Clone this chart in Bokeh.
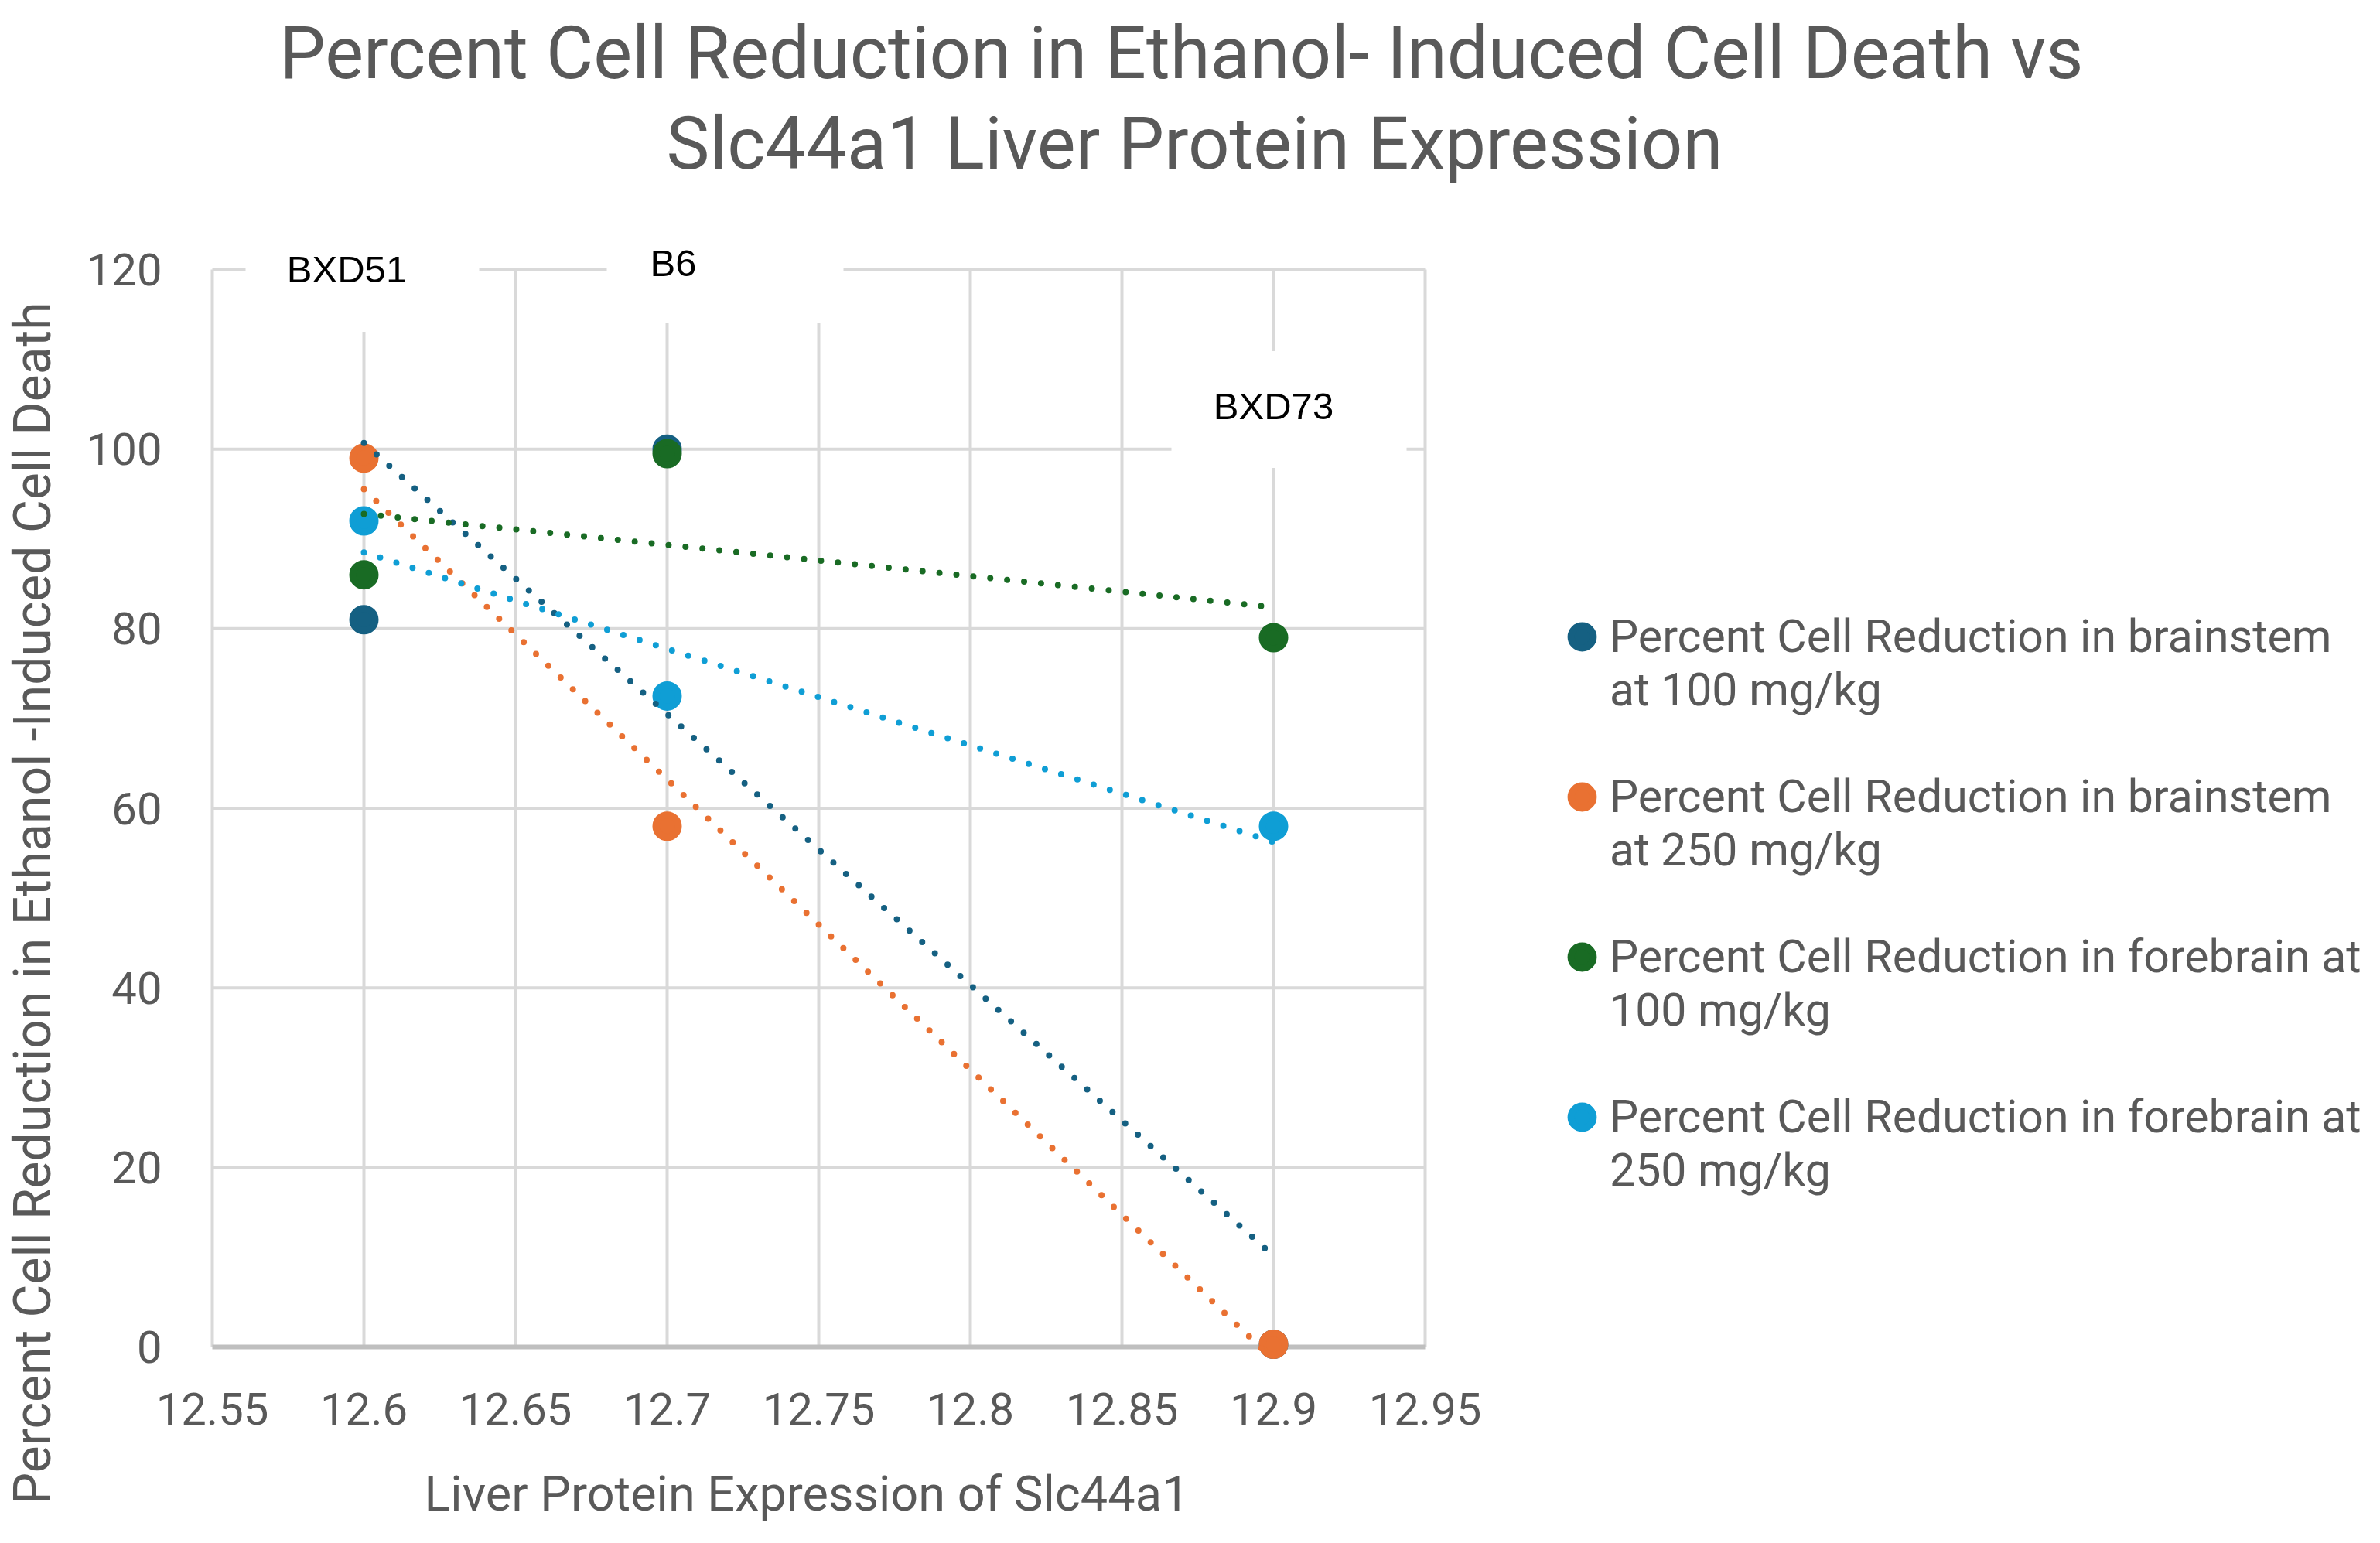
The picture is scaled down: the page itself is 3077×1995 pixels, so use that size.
import numpy as np
from bokeh.plotting import figure
from bokeh.models import Range1d, FixedTicker, Legend, LegendItem, Title
from bokeh.embed import file_html
from bokeh.resources import INLINE
from bokeh.core.properties import value

# ---------------- data ----------------
x_expr = [12.6, 12.7, 12.9]
strain_names = ["BXD51", "B6", "BXD73"]
brainstem_100 = [81, 100, 0.3]
brainstem_250 = [99, 58, 0.3]
forebrain_100 = [86, 99.5, 79]
forebrain_250 = [92, 72.5, 58]
series_values = [brainstem_100, brainstem_250, forebrain_100, forebrain_250]
series_names = [
    "Percent Cell Reduction in brainstem\nat 100 mg/kg",
    "Percent Cell Reduction in brainstem\nat 250 mg/kg",
    "Percent Cell Reduction in forebrain at\n100 mg/kg",
    "Percent Cell Reduction in forebrain at\n250 mg/kg",
]
colors = ["#156082", "#E97132", "#196B24", "#0F9ED5"]
x_ticks = [12.55, 12.6, 12.65, 12.7, 12.75, 12.8, 12.85, 12.9, 12.95]
x_tick_labels = ["12.55", "12.6", "12.65", "12.7", "12.75", "12.8", "12.85", "12.9", "12.95"]
y_ticks = [0, 20, 40, 60, 80, 100, 120]

title_lines = ["Percent Cell Reduction in Ethanol- Induced Cell Death vs",
               "Slc44a1 Liver Protein Expression"]
x_title = "Liver Protein Expression of Slc44a1"
y_title = "Percent Cell Reduction in Ethanol  -Induced Cell Death"

NB = "\u00a0"

# ---------------- geometry (figure pixels) ----------------
X_LO_PX, X_HI_PX = 271, 1839      # x = 12.55 / 12.95
Y_HI_PX, Y_LO_PX = 348, 1741      # y = 120 / 0
FL, FT, FB = 267, 308, 1765       # frame left / top / bottom
W = 3060
FW = 1576
FH = FB - FT
ppx = (X_HI_PX - X_LO_PX) / (x_ticks[-1] - x_ticks[0])
ppy = (Y_LO_PX - Y_HI_PX) / (y_ticks[-1] - y_ticks[0])
x0 = x_ticks[0] - (X_LO_PX - FL) / ppx
x1 = x0 + FW / ppx
y1 = y_ticks[-1] + (Y_HI_PX - FT) / ppy
y0 = y1 - FH / ppy


def dx(px):   # figure pixel -> data x
    return x_ticks[0] + (px - X_LO_PX) / ppx


def dy(py):   # figure pixel -> data y
    return (Y_LO_PX - py) / ppy


GREY = "#595959"
FONT = "Roboto"

p = figure(frame_width=FW, frame_height=FH,
           min_border_left=FL, min_border_top=FT,
           min_border_right=W - FL - FW, min_border_bottom=150,
           x_range=Range1d(x0, x1), y_range=Range1d(y0, y1),
           output_backend="svg", toolbar_location=None,
           background_fill_color="white", border_fill_color="white")
p.outline_line_color = None
p.xgrid.visible = False
p.ygrid.visible = False

# grid (manual so it stops at the data box)
p.segment(x0=x_ticks, x1=x_ticks, y0=[y_ticks[0]] * len(x_ticks), y1=[y_ticks[-1]] * len(x_ticks),
          line_color="#D9D9D9", line_width=4, level="underlay")
p.segment(x0=[x_ticks[0]] * (len(y_ticks) - 1), x1=[x_ticks[-1]] * (len(y_ticks) - 1),
          y0=y_ticks[1:], y1=y_ticks[1:], line_color="#D9D9D9", line_width=4, level="underlay")
p.segment(x0=[x_ticks[0]], x1=[x_ticks[-1]], y0=[0], y1=[0],
          line_color="#BFBFBF", line_width=6, level="underlay")

# axes
p.xaxis.ticker = FixedTicker(ticks=x_ticks)
p.xaxis.major_label_overrides = {t: l for t, l in zip(x_ticks, x_tick_labels)}
p.yaxis.ticker = FixedTicker(ticks=y_ticks)
for ax in (p.xaxis[0], p.yaxis[0]):
    ax.axis_line_color = None
    ax.major_tick_line_color = None
    ax.minor_tick_line_color = None
    ax.major_tick_out = 0
    ax.major_tick_in = 0
    ax.major_label_text_font = FONT
    ax.major_label_text_font_size = "58px"
    ax.major_label_text_color = GREY
    ax.axis_label_text_font = FONT
    ax.axis_label_text_color = GREY
    ax.axis_label_text_font_style = "normal"
p.xaxis.axis_label = x_title + NB * 2
p.yaxis.axis_label = y_title + NB * 15
p.xaxis.axis_label_text_font_size = "63px"
p.yaxis.axis_label_text_font_size = "66px"
p.xaxis.major_label_standoff = 35
p.xaxis.axis_label_standoff = 50
p.yaxis.major_label_standoff = FL - 206
p.yaxis.axis_label_standoff = 28

# data label boxes and texts (pixel positions)
box_cx = [465, 934, 1663]
box_cy = [353, 342, 529]
box_w = [302, 306, 304]
txt_cx = [445, 867, 1643]
txt_cy = [347, 339, 524]
p.rect(x=[dx(v) for v in box_cx], y=[dy(v) for v in box_cy], width=box_w, height=151,
       width_units="screen", height_units="screen", fill_color="white", line_color=None)
p.text(x=[dx(v) for v in txt_cx], y=[dy(v) for v in txt_cy], text=strain_names,
       text_align="center", text_baseline="middle",
       text_font=value("Liberation Sans"), text_font_size="49px", text_color="black")

# markers (a thick outline of the same colour keeps legend and plot markers the same size)
renderers = []
for vals, c in zip(series_values, colors):
    r = p.scatter(x=x_expr, y=vals, size=29, fill_color=c, line_color=c, line_width=9)
    renderers.append(r)

# linear trendlines
for vals, c in zip(series_values, colors):
    m, b = np.polyfit(x_expr, vals, 1)
    xs = [x_expr[0], x_expr[-1]]
    p.line(x=xs, y=[m * xs[0] + b, m * xs[1] + b], line_color=c, line_width=8,
           line_dash="0 22", line_cap="round")

# legend in the right panel (blank first line so the marker sits on the first text line)
items = [LegendItem(label=NB + "\n" + n, renderers=[r]) for n, r in zip(series_names, renderers)]
legend = Legend(items=items, location=(163, 218), orientation="vertical",
                border_line_color=None, background_fill_alpha=0, padding=0, margin=0,
                spacing=-53, glyph_width=72, glyph_height=72, label_standoff=0,
                label_text_font=FONT, label_text_font_size="59px", label_text_color=GREY,
                label_text_line_height=1.47)
p.add_layout(legend, "right")

# title: spacer next to the frame, then line 2, then line 1 on top
spacer = Title(text=NB, text_font_size="10px", standoff=55)
t2 = Title(text=title_lines[1], align="left", offset=858 - FL, text_font=FONT,
           text_font_size="94px", text_color=GREY, text_font_style="normal", standoff=0)
t1 = Title(text=title_lines[0], align="left", offset=358 - FL, text_font=FONT,
           text_font_size="94px", text_color=GREY, text_font_style="normal")
p.add_layout(spacer, "above")
p.add_layout(t2, "above")
p.add_layout(t1, "above")

open("out.html", "w").write(file_html(p, INLINE))
